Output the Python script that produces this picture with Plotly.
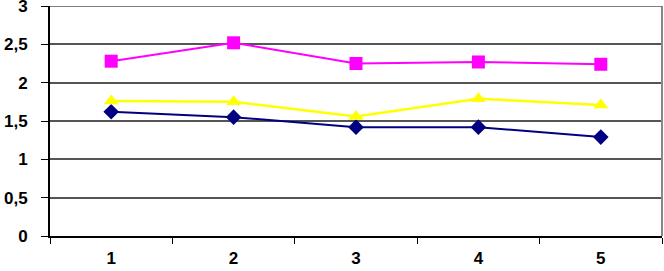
import plotly.graph_objects as go

categories = ["1", "2", "3", "4", "5"]
pink_vals = [2.28, 2.52, 2.25, 2.27, 2.24]
yellow_vals = [1.76, 1.75, 1.56, 1.79, 1.71]
blue_vals = [1.62, 1.55, 1.42, 1.42, 1.29]
y_ticks = [0, 0.5, 1, 1.5, 2, 2.5, 3]

fig = go.Figure()
fig.add_trace(go.Scatter(x=categories, y=blue_vals, mode="lines+markers",
                         line=dict(color="#000080", width=2),
                         marker=dict(symbol="diamond", size=12, color="#000080")))
fig.add_trace(go.Scatter(x=categories, y=pink_vals, mode="lines+markers",
                         line=dict(color="#FF00FF", width=2),
                         marker=dict(symbol="square", size=13, color="#FF00FF")))
fig.add_trace(go.Scatter(x=categories, y=yellow_vals, mode="lines+markers",
                         line=dict(color="#FFFF00", width=2.5),
                         marker=dict(symbol="triangle-up", size=13, color="#FFFF00")))

fig.update_layout(
    width=664, height=271,
    margin=dict(l=50, r=2, t=6, b=35),
    paper_bgcolor="white", plot_bgcolor="white",
    showlegend=False,
    separators=",.",
    font=dict(family="Liberation Sans, Arial", size=17, color="black", weight="bold"),
    xaxis=dict(type="category", tickson="boundaries", ticks="outside", ticklen=6,
               tickcolor="black", showline=True, linecolor="black", linewidth=2,
               showgrid=False, zeroline=False, range=[-0.5, 4.5], automargin=False,
               ticklabelstandoff=6),
    yaxis=dict(range=[0, 3], tickvals=y_ticks, ticks="outside", ticklen=7,
               tickcolor="black", showline=True, linecolor="black", linewidth=2,
               showgrid=True, gridcolor="#555555", gridwidth=1.5, zeroline=False,
               ticklabelstandoff=10, automargin=False, ticklabeloverflow="allow"),
    shapes=[dict(type="line", xref="paper", yref="paper", x0=1, x1=1, y0=0, y1=1,
                 line=dict(color="#888888", width=2)),
            dict(type="line", xref="paper", yref="y", x0=0, x1=1, y0=3, y1=3,
                 line=dict(color="#555555", width=1.5))],
)
fig.write_html("out.html", config={"displayModeBar": False},
               post_script="document.body.style.margin='0';document.body.style.overflow='hidden';")
